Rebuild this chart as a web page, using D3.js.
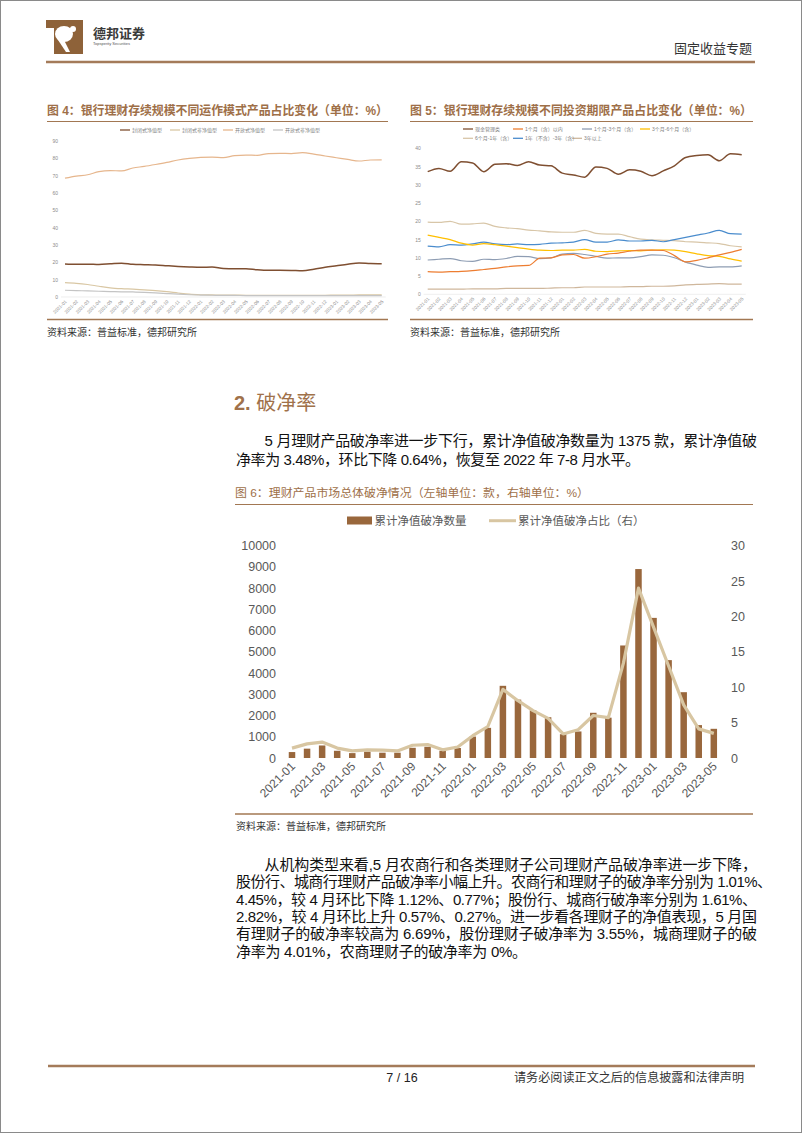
<!DOCTYPE html>
<html>
<head>
<meta charset="utf-8">
<script src="https://cdn.jsdelivr.net/npm/d3@7"></script>
<style>
  body { margin: 0; background: #fff; }
  svg text { font-family: "Liberation Sans", "Noto Sans CJK SC", sans-serif; }
</style>
</head>
<body>
<svg id="page"></svg>
<script>
// months shared by all three charts
const months = ['2021-01','2021-02','2021-03','2021-04','2021-05','2021-06','2021-07','2021-08','2021-09','2021-10','2021-11','2021-12',
  '2022-01','2022-02','2022-03','2022-04','2022-05','2022-06','2022-07','2022-08','2022-09','2022-10','2022-11','2022-12',
  '2023-01','2023-02','2023-03','2023-04','2023-05'];

// fig 4: operation mode share (%)
const fig4Names = ['封闭式净值型', '封闭式非净值型', '开放式净值型', '开放式非净值型'];
const closedNav = [19.0,18.8,18.9,18.7,19.1,19.5,18.8,18.6,18.4,18.0,17.6,17.3,17.1,17.3,16.4,16.2,16.3,15.7,15.4,15.4,15.3,15.1,16.0,17.1,18.0,18.9,19.6,19.3,19.2];
const closedNonNav = [8.3,7.9,7.2,6.2,5.3,4.8,4.5,4.1,3.7,3.1,2.3,1.6,1.3,1.2,1.1,1.1,1.0,1.0,1.0,1.0,1.0,1.0,1.0,1.0,1.1,1.1,1.2,1.2,1.2];
const openNav = [68.4,69.6,70.4,72.2,72.8,72.6,74.3,75.2,76.3,77.5,78.9,79.8,80.4,80.6,80.2,81.4,81.7,81.6,82.6,82.7,82.6,83.1,82.3,81.2,80.2,79.2,78.3,78.9,79.0];
const openNonNav = [3.9,3.7,3.5,3.3,3.1,3.0,2.9,2.7,2.4,2.0,1.6,1.3,1.1,1.0,0.9,0.9,0.8,0.8,0.8,0.8,0.8,0.8,0.8,0.8,0.8,0.8,0.8,0.8,0.8];
const fig4Ticks = [0,10,20,30,40,50,60,70,80,90];

// fig 5: investment term share (%)
const fig5Names = ['现金管理类', '1个月（含）以内', '1个月-3个月（含）', '3个月-6个月（含）', '6个月-1年（含）', '1年（不含）-3年（含）', '3年以上'];
const cashMgmt = [33.6,34.5,33.7,36.3,36.0,33.6,35.6,35.8,35.3,36.3,35.4,35.2,33.2,32.7,32.1,34.9,34.5,32.9,34.1,33.7,32.5,33.8,35.2,37.5,38.0,38.2,36.6,38.5,38.2];
const within1m = [6.2,6.1,6.2,6.3,6.5,6.8,7.1,7.5,7.8,7.9,9.9,10.0,10.8,10.9,9.9,10.3,11.0,11.3,11.8,12.1,12.1,12.0,10.6,8.9,9.3,10.0,10.8,11.5,12.3];
const m1to3 = [9.4,9.6,9.8,9.2,9.0,9.6,9.5,9.8,10.4,10.3,9.8,10.0,11.0,11.2,10.9,10.4,9.9,10.0,10.0,10.3,10.8,10.7,10.0,8.8,8.0,7.4,7.5,7.5,7.8];
const m3to6 = [16.2,15.6,15.0,14.0,13.5,13.9,13.6,13.2,12.8,12.4,12.1,12.0,12.1,12.1,12.3,11.8,11.7,11.9,12.0,11.9,12.1,12.2,12.1,11.7,11.1,10.6,10.4,9.7,9.1];
const m6to12 = [19.8,19.7,20.0,19.2,19.3,19.5,18.6,18.2,18.0,17.6,17.4,17.1,17.0,17.0,17.5,16.7,16.5,16.5,15.8,15.1,14.9,14.8,14.7,14.4,14.3,14.1,13.9,13.3,13.0];
const y1to3 = [13.2,13.0,13.6,13.5,13.8,14.3,13.8,13.6,13.8,13.6,13.7,14.0,14.1,14.3,15.0,14.3,14.3,14.9,14.6,14.6,14.8,14.4,15.0,15.6,16.2,16.8,17.5,16.6,16.5];
const over3y = [1.4,1.4,1.4,1.4,1.5,1.5,1.5,1.6,1.6,1.6,1.6,1.7,1.8,1.8,2.0,2.0,2.0,2.0,2.1,2.1,2.2,2.2,2.3,2.6,2.7,2.8,2.9,2.8,2.8];
const fig5Ticks = [0,5,10,15,20,25,30,35,40];

// fig 6: below-par products
const breakCount = [280,440,590,340,230,300,250,250,480,530,340,470,1010,1420,3400,2750,2250,1920,1120,1250,2130,1900,5300,8900,6600,4610,3100,1550,1375];
const breakRatio = [1.4,2.0,2.25,1.4,1.0,1.15,1.1,1.0,1.8,1.9,1.15,1.55,3.15,4.45,9.7,8.1,6.7,5.6,3.4,4.0,6.0,5.7,13.4,24.0,18.5,13.0,7.5,4.12,3.48];
const leftTicks = [0,1000,2000,3000,4000,5000,6000,7000,8000,9000,10000];
const rightTicks = [0,5,10,15,20,25,30];

const para1 = [
  '5 月理财产品破净率进一步下行，累计净值破净数量为 1375 款，累计净值破',
  '净率为 3.48%，环比下降 0.64%，恢复至 2022 年 7-8 月水平。'
];
const para2 = [
  '从机构类型来看,5 月农商行和各类理财子公司理财产品破净率进一步下降，',
  '股份行、城商行理财产品破净率小幅上升。农商行和理财子的破净率分别为 1.01%、',
  '4.45%，较 4 月环比下降 1.12%、0.77%；股份行、城商行破净率分别为 1.61%、',
  '2.82%，较 4 月环比上升 0.57%、0.27%。进一步看各理财子的净值表现，5 月国',
  '有理财子的破净率较高为 6.69%，股份理财子破净率为 3.55%，城商理财子的破',
  '净率为 4.01%，农商理财子的破净率为 0%。'
];

const BROWN = '#a27752';
const TITLE = '#9e6f48';

const svg = d3.select('#page').attr('width', 802).attr('height', 1133);
svg.append('rect').attr('x', 0.5).attr('y', 0.5).attr('width', 801).attr('height', 1132)
  .attr('fill', '#fff').attr('stroke', '#8a8a8a');

// ---- header ----
const logo = svg.append('g');
logo.append('rect').attr('x', 46).attr('y', 20).attr('width', 37).attr('height', 34).attr('fill', '#8e6239');
logo.append('rect').attr('x', 46).attr('y', 28).attr('width', 8).attr('height', 26).attr('fill', '#fff');
logo.append('ellipse').attr('cx', 64).attr('cy', 34).attr('rx', 9).attr('ry', 8).attr('fill', '#fff');
logo.append('path').attr('d', 'M58,40 L66,52 L70,52 L64,40 Z').attr('fill', '#fff');
logo.append('circle').attr('cx', 73).attr('cy', 29).attr('r', 3).attr('fill', '#fff');
svg.append('text').attr('x', 93).attr('y', 38).attr('font-size', 13).attr('font-weight', 'bold')
  .attr('fill', '#3a3a3a').text('德邦证券');
svg.append('text').attr('x', 93).attr('y', 45).attr('font-size', 4).attr('fill', '#555').text('Topsperity Securities');
svg.append('text').attr('x', 752).attr('y', 53).attr('text-anchor', 'end').attr('font-size', 13)
  .attr('fill', '#333').text('固定收益专题');
svg.append('line').attr('x1', 46).attr('x2', 755).attr('y1', 62).attr('y2', 62)
  .attr('stroke', '#a47b5a').attr('stroke-width', 2.5);

// ---- small line chart helper (fig 4 and fig 5) ----
function smallChart(opt) {
  const g = svg.append('g');
  g.append('text').attr('x', opt.left).attr('y', 114.5).attr('font-size', 12.5).attr('font-weight', 'bold')
    .attr('fill', TITLE)
    .attr('textLength', opt.titleLen).attr('lengthAdjust', 'spacingAndGlyphs').text(opt.title);
  g.append('line').attr('x1', opt.left).attr('x2', opt.right).attr('y1', 121.5).attr('y2', 121.5)
    .attr('stroke', BROWN).attr('stroke-width', 1);
  g.append('line').attr('x1', opt.left).attr('x2', opt.right).attr('y1', 319.5).attr('y2', 319.5)
    .attr('stroke', BROWN).attr('stroke-width', 1.5);
  g.append('text').attr('x', opt.left).attr('y', 336).attr('font-size', 10).attr('fill', '#333')
    .text('资料来源：普益标准，德邦研究所');

  const x = d3.scalePoint().domain(months).range(opt.xRange);
  const y = d3.scaleLinear().domain(opt.yDomain).range(opt.yRange);

  const yAxis = g.append('g').attr('transform', `translate(${opt.xRange[0] - 7},0)`)
    .call(d3.axisLeft(y).tickValues(opt.ticks).tickSize(0).tickPadding(0));
  yAxis.select('.domain').remove();
  yAxis.selectAll('text').attr('font-size', 5).attr('fill', '#8c8c8c').attr('font-family', 'Liberation Sans');

  g.append('line').attr('x1', opt.xRange[0] - 4).attr('x2', opt.xRange[1] + 4)
    .attr('y1', y(0)).attr('y2', y(0)).attr('stroke', '#e3e3e3').attr('stroke-width', 0.6);

  g.append('g').selectAll('text').data(months).join('text')
    .attr('transform', d => `translate(${x(d) + 2},${opt.yRange[0] + 5}) rotate(-45)`)
    .attr('text-anchor', 'end').attr('font-size', 4.6).attr('fill', '#8c8c8c').text(d => d);

  const line = d3.line().x((d, i) => x(months[i])).y(d => y(d)).curve(d3.curveMonotoneX);
  opt.series.forEach(s => {
    g.append('path').datum(s.values).attr('d', line).attr('fill', 'none')
      .attr('stroke', s.color).attr('stroke-width', s.width || 1.2);
  });

  opt.series.forEach(s => {
    const lg = g.append('g').attr('transform', `translate(${s.lx},${s.ly})`);
    lg.append('line').attr('x1', 0).attr('x2', 10).attr('stroke', s.color).attr('stroke-width', 1.3);
    lg.append('text').attr('x', 12).attr('y', 1.8).attr('font-size', 5).attr('fill', '#7f7f7f').text(s.name);
  });
}

smallChart({
  left: 47, right: 388, titleLen: 341,
  title: '图 4：银行理财存续规模不同运作模式产品占比变化（单位：%）',
  xRange: [65, 381.7], yDomain: [0, 90], yRange: [297, 140.7], ticks: fig4Ticks,
  series: [
    { name: fig4Names[1], values: closedNonNav, color: '#d9c7a4', lx: 170, ly: 130 },
    { name: fig4Names[3], values: openNonNav, color: '#c4c4c4', lx: 273, ly: 130 },
    { name: fig4Names[2], values: openNav, color: '#e6b68d', lx: 223, ly: 130 },
    { name: fig4Names[0], values: closedNav, color: '#7f4f31', width: 1.5, lx: 120, ly: 130 }
  ]
});

smallChart({
  left: 410, right: 753, titleLen: 342,
  title: '图 5：银行理财存续规模不同投资期限产品占比变化（单位：%）',
  xRange: [427.7, 741.7], yDomain: [0, 40], yRange: [294.3, 148.3], ticks: fig5Ticks,
  series: [
    { name: fig5Names[6], values: over3y, color: '#cfb79c', lx: 572, ly: 138.3 },
    { name: fig5Names[4], values: m6to12, color: '#d8c6a8', lx: 463, ly: 138.3 },
    { name: fig5Names[2], values: m1to3, color: '#8e9db3', lx: 582, ly: 129 },
    { name: fig5Names[5], values: y1to3, color: '#4a8ccd', lx: 513, ly: 138.3 },
    { name: fig5Names[3], values: m3to6, color: '#ffbf00', lx: 640, ly: 129 },
    { name: fig5Names[1], values: within1m, color: '#ed7d31', lx: 513, ly: 129 },
    { name: fig5Names[0], values: cashMgmt, color: '#7f4f31', width: 1.5, lx: 463, ly: 129 }
  ]
});

// ---- section 2 ----
const head = svg.append('text').attr('x', 234).attr('y', 410).attr('font-size', 20).attr('fill', '#a0714a');
head.append('tspan').attr('font-weight', 'bold').text('2. ');
head.append('tspan').text('破净率');

const para1Pos = [[264.6, 757], [236, 640]];
svg.append('g').selectAll('text').data(para1).join('text')
  .attr('x', (d, i) => para1Pos[i][0]).attr('y', (d, i) => 445.5 + i * 19)
  .attr('font-size', 15).attr('fill', '#111')
  .attr('textLength', (d, i) => para1Pos[i][1] - para1Pos[i][0]).attr('lengthAdjust', 'spacing')
  .text(d => d);

// ---- fig 6 ----
svg.append('text').attr('x', 235).attr('y', 497).attr('font-size', 11.5).attr('fill', TITLE)
  .attr('textLength', 354).attr('lengthAdjust', 'spacingAndGlyphs')
  .text('图 6：理财产品市场总体破净情况（左轴单位：款，右轴单位：%）');
svg.append('line').attr('x1', 235).attr('x2', 753).attr('y1', 504.5).attr('y2', 504.5)
  .attr('stroke', BROWN).attr('stroke-width', 1.2);
svg.append('line').attr('x1', 235).attr('x2', 753).attr('y1', 814).attr('y2', 814)
  .attr('stroke', BROWN).attr('stroke-width', 1.5);
svg.append('text').attr('x', 236).attr('y', 830).attr('font-size', 10).attr('fill', '#333')
  .text('资料来源：普益标准，德邦研究所');

const x6 = d3.scalePoint().domain(months).range([292, 713.8]);
const yL = d3.scaleLinear().domain([0, 10000]).range([758, 545.7]);
const yR = d3.scaleLinear().domain([0, 30]).range([758, 545.7]);

const axL = svg.append('g').attr('transform', 'translate(276,0)')
  .call(d3.axisLeft(yL).tickValues(leftTicks).tickFormat(d3.format('d')).tickSize(0).tickPadding(0));
axL.select('.domain').remove();
axL.selectAll('text').attr('font-size', 12.5).attr('fill', '#595959').attr('font-family', 'Liberation Sans');

const axR = svg.append('g').attr('transform', 'translate(731,0)')
  .call(d3.axisRight(yR).tickValues(rightTicks).tickFormat(d3.format('d')).tickSize(0).tickPadding(0));
axR.select('.domain').remove();
axR.selectAll('text').attr('font-size', 12.5).attr('fill', '#595959').attr('font-family', 'Liberation Sans');

const barW = 6.5;
svg.append('g').selectAll('rect').data(breakCount).join('rect')
  .attr('x', (d, i) => x6(months[i]) - barW / 2).attr('y', d => yL(d))
  .attr('width', barW).attr('height', d => yL(0) - yL(d)).attr('fill', '#99673c');

svg.append('path').datum(breakRatio)
  .attr('d', d3.line().x((d, i) => x6(months[i])).y(d => yR(d)))
  .attr('fill', 'none').attr('stroke', '#d8c6a2').attr('stroke-width', 3.2).attr('stroke-linejoin', 'round');

svg.append('g').selectAll('text').data(months.filter((d, i) => i % 2 === 0)).join('text')
  .attr('transform', d => `translate(${x6(d) + 4},${767}) rotate(-45)`)
  .attr('text-anchor', 'end').attr('font-size', 12).attr('fill', '#595959').text(d => d);

// legend
svg.append('rect').attr('x', 347).attr('y', 516.5).attr('width', 25).attr('height', 8).attr('fill', '#99673c');
svg.append('text').attr('x', 374.6).attr('y', 525).attr('font-size', 11.5).attr('fill', '#595959').text('累计净值破净数量');
svg.append('line').attr('x1', 489).attr('x2', 516).attr('y1', 520.7).attr('y2', 520.7)
  .attr('stroke', '#d8c6a2').attr('stroke-width', 3);
svg.append('text').attr('x', 518).attr('y', 525).attr('font-size', 11.5).attr('fill', '#595959').text('累计净值破净占比（右）');

// ---- paragraph 2 ----
const para2Pos = [[264.6, 757], [236, 772], [236, 757], [236, 757], [236, 757], [236, 527]];
const para2Y = [869.5, 887.2, 904.8, 921.5, 938.8, 956.5];
svg.append('g').selectAll('text').data(para2).join('text')
  .attr('x', (d, i) => para2Pos[i][0]).attr('y', (d, i) => para2Y[i])
  .attr('font-size', 15).attr('fill', '#111')
  .attr('textLength', (d, i) => para2Pos[i][1] - para2Pos[i][0]).attr('lengthAdjust', 'spacing')
  .text(d => d);

// ---- footer ----
svg.append('line').attr('x1', 48).attr('x2', 755).attr('y1', 1066).attr('y2', 1066)
  .attr('stroke', '#a47b5a').attr('stroke-width', 2.5);
svg.append('text').attr('x', 402).attr('y', 1082).attr('text-anchor', 'middle').attr('font-size', 12.5)
  .attr('fill', '#222').text('7 / 16');
svg.append('text').attr('x', 514).attr('y', 1082).attr('font-size', 12).attr('fill', '#333')
  .attr('textLength', 230).attr('lengthAdjust', 'spacingAndGlyphs').text('请务必阅读正文之后的信息披露和法律声明');
</script>
</body>
</html>
